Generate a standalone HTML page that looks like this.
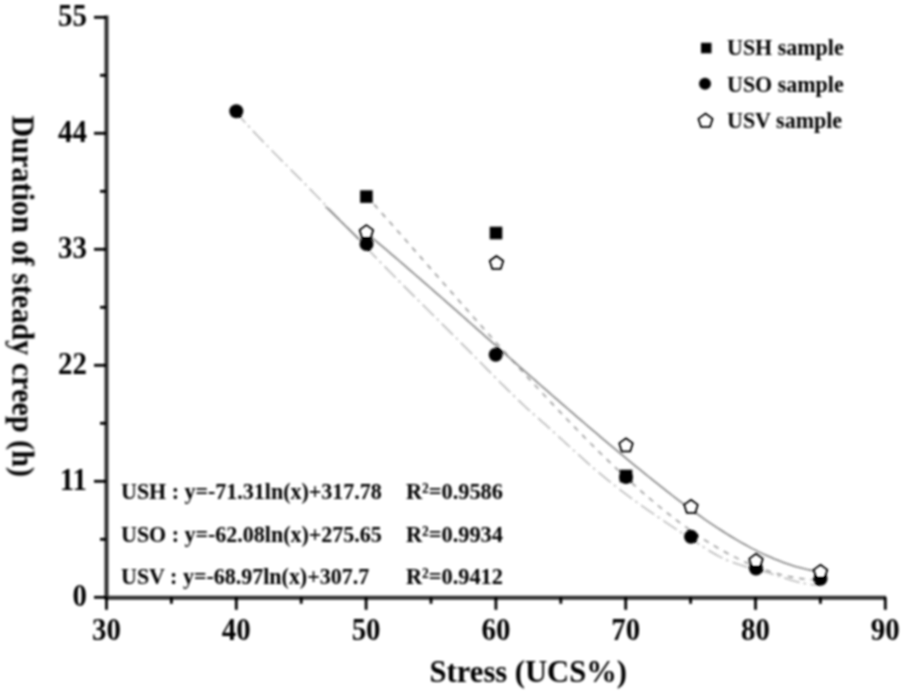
<!DOCTYPE html>
<html><head><meta charset="utf-8"><style>
html,body{margin:0;padding:0;background:#fff;}
body{width:905px;height:697px;overflow:hidden;font-family:"Liberation Serif",serif;}
svg{display:block;}
</style></head><body>
<svg width="905" height="697" viewBox="0 0 905 697">
<defs><filter id="bl" color-interpolation-filters="sRGB" filterUnits="userSpaceOnUse" x="0" y="0" width="905" height="697"><feGaussianBlur stdDeviation="0.8"/><feComponentTransfer><feFuncR type="linear" slope="1.25" intercept="-0.25"/><feFuncG type="linear" slope="1.25" intercept="-0.25"/><feFuncB type="linear" slope="1.25" intercept="-0.25"/></feComponentTransfer></filter></defs>
<rect width="100%" height="100%" fill="#fff"/>
<g filter="url(#bl)">
<path d="M236.5,112.7 L239.5,116.1 L242.5,119.5 L245.5,122.9 L248.5,126.1 L251.5,129.4 L254.5,132.6 L257.5,135.8 L260.5,138.9 L263.5,142.1 L266.5,145.1 L269.5,148.2 L272.5,151.3 L275.5,154.3 L278.5,157.3 L281.5,160.4 L284.5,163.4 L287.5,166.4 L290.5,169.4 L293.5,172.4 L296.5,175.4 L299.5,178.4 L302.5,181.4 L305.5,184.5 L308.5,187.5 L311.5,190.6 L314.5,193.7 L317.5,196.8 L320.5,199.9 L323.5,203.0 L326.5,206.1 L329.5,209.2 L332.5,212.3 L335.5,215.5 L338.5,218.6 L341.5,221.7 L344.5,224.9 L347.5,228.0 L350.5,231.1 L353.5,234.3 L356.5,237.4 L359.5,240.6 L362.5,243.7 L365.5,246.8 L368.5,249.9 L371.5,253.0 L374.5,256.1 L377.5,259.2 L380.5,262.3 L383.5,265.4 L386.5,268.4 L389.5,271.5 L392.5,274.5 L395.5,277.5 L398.5,280.6 L401.5,283.6 L404.5,286.6 L407.5,289.6 L410.5,292.6 L413.5,295.6 L416.5,298.6 L419.5,301.5 L422.5,304.5 L425.5,307.5 L428.5,310.5 L431.5,313.5 L434.5,316.4 L437.5,319.4 L440.5,322.4 L443.5,325.4 L446.5,328.4 L449.5,331.4 L452.5,334.3 L455.5,337.3 L458.5,340.3 L461.5,343.4 L464.5,346.4 L467.5,349.4 L470.5,352.4 L473.5,355.4 L476.5,358.5 L479.5,361.5 L482.5,364.5 L485.5,367.6 L488.5,370.6 L491.5,373.6 L494.5,376.6 L497.5,379.7 L500.5,382.7 L503.5,385.6 L506.5,388.6 L509.5,391.6 L512.5,394.5 L515.5,397.5 L518.5,400.3 L521.5,403.2 L524.5,406.0 L527.5,408.8 L530.5,411.5 L533.5,414.2 L536.5,416.8 L539.5,419.4 L542.5,422.1 L545.5,424.7 L548.5,427.4 L551.5,430.1 L554.5,432.8 L557.5,435.6 L560.5,438.3 L563.5,441.0 L566.5,443.8 L569.5,446.5 L572.5,449.3 L575.5,452.0 L578.5,454.7 L581.5,457.4 L584.5,460.1 L587.5,462.8 L590.5,465.4 L593.5,468.1 L596.5,470.7 L599.5,473.2 L602.5,475.7 L605.5,478.2 L608.5,480.6 L611.5,483.0 L614.5,485.4 L617.5,487.8 L620.5,490.1 L623.5,492.4 L626.5,494.6 L629.5,496.9 L632.5,499.1 L635.5,501.3 L638.5,503.4 L641.5,505.6 L644.5,507.7 L647.5,509.8 L650.5,511.9 L653.5,513.9 L656.5,516.0 L659.5,518.0 L662.5,520.1 L665.5,522.1 L668.5,524.1 L671.5,526.1 L674.5,528.1 L677.5,530.0 L680.5,532.0 L683.5,534.0 L686.5,535.9 L689.5,537.9 L692.5,539.9 L695.5,541.8 L698.5,543.8 L701.5,545.7 L704.5,547.7 L707.5,549.6 L710.5,551.5 L713.5,553.3 L716.5,555.0 L719.5,556.6 L722.5,558.1 L725.5,559.5 L728.5,560.7 L731.5,561.9 L734.5,563.0 L737.5,564.1 L740.5,565.1 L743.5,566.0 L746.5,566.9 L749.5,567.7 L752.5,568.5 L755.5,569.3 L758.5,570.2 L761.5,571.0 L764.5,571.8 L767.5,572.6 L770.5,573.5 L773.5,574.5 L776.5,575.4 L779.5,576.4 L782.5,577.4 L785.5,578.3 L788.5,579.3 L791.5,580.2 L794.5,581.1 L797.5,581.9 L800.5,582.7 L803.5,583.3 L806.5,583.9 L809.5,584.4 L812.5,584.7 L815.5,584.9 L818.5,585.0 L820.0,585.0" fill="none" stroke="#c8c8c8" stroke-width="1.6" stroke-dasharray="16 4 2.5 4.5" stroke-dashoffset="2.6"/>
<path d="M366.4,195.8 L369.4,199.2 L372.4,202.5 L375.4,205.9 L378.4,209.3 L381.4,212.7 L384.4,216.1 L387.4,219.4 L390.4,222.8 L393.4,226.2 L396.4,229.6 L399.4,233.0 L402.4,236.4 L405.4,239.8 L408.4,243.3 L411.4,246.7 L414.4,250.1 L417.4,253.5 L420.4,256.9 L423.4,260.3 L426.4,263.7 L429.4,267.1 L432.4,270.5 L435.4,274.0 L438.4,277.4 L441.4,280.8 L444.4,284.2 L447.4,287.6 L450.4,291.0 L453.4,294.4 L456.4,297.8 L459.4,301.2 L462.4,304.6 L465.4,308.0 L468.4,311.4 L471.4,314.8 L474.4,318.2 L477.4,321.5 L480.4,324.9 L483.4,328.3 L486.4,331.6 L489.4,335.0 L492.4,338.4 L495.4,341.7 L498.4,345.0 L501.4,348.4 L504.4,351.7 L507.4,355.0 L510.4,358.3 L513.4,361.7 L516.4,365.0 L519.4,368.3 L522.4,371.5 L525.4,374.8 L528.4,378.1 L531.4,381.3 L534.4,384.6 L537.4,387.8 L540.4,391.1 L543.4,394.3 L546.4,397.5 L549.4,400.7 L552.4,403.9 L555.4,407.1 L558.4,410.2 L561.4,413.4 L564.4,416.5 L567.4,419.7 L570.4,422.8 L573.4,425.9 L576.4,429.0 L579.4,432.1 L582.4,435.1 L585.4,438.2 L588.4,441.2 L591.4,444.2 L594.4,447.2 L597.4,450.2 L600.4,453.2 L603.4,456.1 L606.4,459.0 L609.4,461.9 L612.4,464.8 L615.4,467.6 L618.4,470.5 L621.4,473.3 L624.4,476.1 L627.4,478.8 L630.4,481.6 L633.4,484.3 L636.4,487.0 L639.4,489.6 L642.4,492.3 L645.4,494.9 L648.4,497.5 L651.4,500.0 L654.4,502.5 L657.4,505.0 L660.4,507.5 L663.4,509.9 L666.4,512.3 L669.4,514.7 L672.4,517.0 L675.4,519.3 L678.4,521.6 L681.4,523.8 L684.4,526.0 L687.4,528.2 L690.4,530.3 L693.4,532.4 L696.4,534.4 L699.4,536.5 L702.4,538.4 L705.4,540.4 L708.4,542.3 L711.4,544.1 L714.4,545.9 L717.4,547.7 L720.4,549.4 L723.4,551.1 L726.4,552.8 L729.4,554.4 L732.4,555.9 L735.4,557.4 L738.4,558.9 L741.4,560.3 L744.4,561.7 L747.4,563.0 L750.4,564.3 L753.4,565.6 L756.4,566.8 L759.4,567.9 L762.4,569.0 L765.4,570.0 L768.4,571.0 L771.4,572.0 L774.4,572.9 L777.4,573.7 L780.4,574.5 L783.4,575.2 L786.4,575.9 L789.4,576.6 L792.4,577.1 L795.4,577.7 L798.4,578.1 L801.4,578.6 L804.4,578.9 L807.4,579.2 L810.4,579.5 L813.4,579.7 L816.4,579.8 L819.4,579.9 L820.0,579.9" fill="none" stroke="#b0b0b0" stroke-width="1.6" stroke-dasharray="5.5 6"/>
<path d="M366.4,233.0 L369.4,235.5 L372.4,238.1 L375.4,240.6 L378.4,243.1 L381.4,245.6 L384.4,248.2 L387.4,250.7 L390.4,253.3 L393.4,255.9 L396.4,258.4 L399.4,261.0 L402.4,263.6 L405.4,266.2 L408.4,268.8 L411.4,271.4 L414.4,274.0 L417.4,276.6 L420.4,279.2 L423.4,281.8 L426.4,284.4 L429.4,287.0 L432.4,289.6 L435.4,292.3 L438.4,294.9 L441.4,297.5 L444.4,300.2 L447.4,302.8 L450.4,305.4 L453.4,308.1 L456.4,310.7 L459.4,313.4 L462.4,316.0 L465.4,318.7 L468.4,321.3 L471.4,324.0 L474.4,326.6 L477.4,329.3 L480.4,331.9 L483.4,334.6 L486.4,337.3 L489.4,339.9 L492.4,342.6 L495.4,345.2 L498.4,347.9 L501.4,350.5 L504.4,353.2 L507.4,355.9 L510.4,358.5 L513.4,361.2 L516.4,363.8 L519.4,366.5 L522.4,369.1 L525.4,371.8 L528.4,374.4 L531.4,377.0 L534.4,379.7 L537.4,382.3 L540.4,385.0 L543.4,387.6 L546.4,390.2 L549.4,392.8 L552.4,395.5 L555.4,398.1 L558.4,400.7 L561.4,403.3 L564.4,405.9 L567.4,408.5 L570.4,411.1 L573.4,413.7 L576.4,416.3 L579.4,418.9 L582.4,421.4 L585.4,424.0 L588.4,426.6 L591.4,429.1 L594.4,431.7 L597.4,434.2 L600.4,436.8 L603.4,439.3 L606.4,441.9 L609.4,444.4 L612.4,446.9 L615.4,449.4 L618.4,451.9 L621.4,454.4 L624.4,456.9 L627.4,459.4 L630.4,461.8 L633.4,464.3 L636.4,466.8 L639.4,469.2 L642.4,471.6 L645.4,474.1 L648.4,476.5 L651.4,478.9 L654.4,481.3 L657.4,483.7 L660.4,486.1 L663.4,488.4 L666.4,490.8 L669.4,493.1 L672.4,495.5 L675.4,497.8 L678.4,500.1 L681.4,502.3 L684.4,504.6 L687.4,506.8 L690.4,509.0 L693.4,511.2 L696.4,513.4 L699.4,515.5 L702.4,517.7 L705.4,519.8 L708.4,521.8 L711.4,523.9 L714.4,525.9 L717.4,527.9 L720.4,529.8 L723.4,531.7 L726.4,533.6 L729.4,535.5 L732.4,537.3 L735.4,539.1 L738.4,540.9 L741.4,542.6 L744.4,544.3 L747.4,545.9 L750.4,547.6 L753.4,549.1 L756.4,550.6 L759.4,552.1 L762.4,553.6 L765.4,555.0 L768.4,556.3 L771.4,557.6 L774.4,558.9 L777.4,560.1 L780.4,561.3 L783.4,562.4 L786.4,563.5 L789.4,564.5 L792.4,565.5 L795.4,566.4 L798.4,567.2 L801.4,568.0 L804.4,568.8 L807.4,569.5 L810.4,570.1 L813.4,570.7 L816.4,571.2 L819.4,571.7 L820.0,571.8" fill="none" stroke="#9a9a9a" stroke-width="1.6"/>
<path d="M325.5,206.5 L360,240" fill="none" stroke="#9a9a9a" stroke-width="1.6"/>
<path d="M106.5,15.5 V597.8 H886" stroke="#5a5a5a" stroke-width="4.0" fill="none"/>
<g stroke="#2a2a2a" stroke-width="2.8">
<line x1="94" y1="597.3" x2="106" y2="597.3"/>
<line x1="100" y1="539.3" x2="106" y2="539.3"/>
<line x1="94" y1="481.3" x2="106" y2="481.3"/>
<line x1="100" y1="423.3" x2="106" y2="423.3"/>
<line x1="94" y1="365.3" x2="106" y2="365.3"/>
<line x1="100" y1="307.3" x2="106" y2="307.3"/>
<line x1="94" y1="249.3" x2="106" y2="249.3"/>
<line x1="100" y1="191.3" x2="106" y2="191.3"/>
<line x1="94" y1="133.3" x2="106" y2="133.3"/>
<line x1="100" y1="75.3" x2="106" y2="75.3"/>
<line x1="94" y1="17.3" x2="106" y2="17.3"/>
<line x1="106.5" y1="597.3" x2="106.5" y2="609.8"/>
<line x1="171.4" y1="597.3" x2="171.4" y2="603.8"/>
<line x1="236.3" y1="597.3" x2="236.3" y2="609.8"/>
<line x1="301.2" y1="597.3" x2="301.2" y2="603.8"/>
<line x1="366.1" y1="597.3" x2="366.1" y2="609.8"/>
<line x1="431.0" y1="597.3" x2="431.0" y2="603.8"/>
<line x1="495.9" y1="597.3" x2="495.9" y2="609.8"/>
<line x1="560.8" y1="597.3" x2="560.8" y2="603.8"/>
<line x1="625.7" y1="597.3" x2="625.7" y2="609.8"/>
<line x1="690.6" y1="597.3" x2="690.6" y2="603.8"/>
<line x1="755.5" y1="597.3" x2="755.5" y2="609.8"/>
<line x1="820.4" y1="597.3" x2="820.4" y2="603.8"/>
<line x1="885.3" y1="597.3" x2="885.3" y2="609.8"/>
</g>
<g font-family="Liberation Serif" font-weight="bold" font-size="29.5" fill="#111">
<text transform="translate(87,605.9) scale(0.98,1.07)" text-anchor="end">0</text>
<text transform="translate(87,489.9) scale(0.98,1.07)" text-anchor="end">11</text>
<text transform="translate(87,373.9) scale(0.98,1.07)" text-anchor="end">22</text>
<text transform="translate(87,257.9) scale(0.98,1.07)" text-anchor="end">33</text>
<text transform="translate(87,141.9) scale(0.98,1.07)" text-anchor="end">44</text>
<text transform="translate(87,25.9) scale(0.98,1.07)" text-anchor="end">55</text>
<text transform="translate(106.5,639.5) scale(0.98,1.07)" text-anchor="middle">30</text>
<text transform="translate(236.3,639.5) scale(0.98,1.07)" text-anchor="middle">40</text>
<text transform="translate(366.1,639.5) scale(0.98,1.07)" text-anchor="middle">50</text>
<text transform="translate(495.9,639.5) scale(0.98,1.07)" text-anchor="middle">60</text>
<text transform="translate(625.7,639.5) scale(0.98,1.07)" text-anchor="middle">70</text>
<text transform="translate(755.5,639.5) scale(0.98,1.07)" text-anchor="middle">80</text>
<text transform="translate(885.3,639.5) scale(0.98,1.07)" text-anchor="middle">90</text>
</g>
<g font-family="Liberation Serif" font-weight="bold" font-size="30" fill="#111">
<text transform="translate(528.3,682) scale(1.02,1.06)" text-anchor="middle">Stress (UCS%)</text>
<text transform="translate(12.8,296.3) rotate(90) scale(1.006,1.06)" text-anchor="middle">Duration of steady creep (h)</text>
</g>
<g font-family="Liberation Serif" font-weight="bold" font-size="22" fill="#262626">
<text transform="translate(121,498.5) scale(1.0,1.06)">USH : y=-71.31ln(x)+317.78</text>
<text transform="translate(406,498.5) scale(1.015,1.06)">R²=0.9586</text>
<text transform="translate(121,541.5) scale(1.0,1.06)">USO : y=-62.08ln(x)+275.65</text>
<text transform="translate(406,541.5) scale(1.015,1.06)">R²=0.9934</text>
<text transform="translate(121,583.5) scale(1.0,1.06)">USV : y=-68.97ln(x)+307.7</text>
<text transform="translate(406,583.5) scale(1.015,1.06)">R²=0.9412</text>
</g>
<g font-family="Liberation Serif" font-weight="bold" font-size="22" fill="#111">
<text transform="translate(727,55) scale(1.0,1.06)">USH sample</text>
<text transform="translate(727,91.5) scale(1.0,1.06)">USO sample</text>
<text transform="translate(727,127.5) scale(1.0,1.06)">USV sample</text>
</g>
<rect x="360.1" y="190.3" width="12.6" height="12.6" fill="#000"/>
<rect x="489.7" y="226.7" width="12.6" height="12.6" fill="#000"/>
<rect x="619.7" y="469.7" width="12.6" height="12.6" fill="#000"/>
<circle cx="236.3" cy="111.3" r="7" fill="#000"/>
<circle cx="366.5" cy="244.0" r="7" fill="#000"/>
<circle cx="495.7" cy="354.7" r="7" fill="#000"/>
<circle cx="626.0" cy="477.0" r="7" fill="#000"/>
<circle cx="691.0" cy="536.7" r="7" fill="#000"/>
<circle cx="756.0" cy="568.5" r="7" fill="#000"/>
<circle cx="820.5" cy="578.8" r="7" fill="#000"/>
<polygon points="366.4,225.0 373.3,230.0 370.7,238.2 362.1,238.2 359.5,230.0" fill="#fff" stroke="#000" stroke-width="1.5"/>
<polygon points="496.5,255.8 503.4,260.8 500.8,269.0 492.2,269.0 489.6,260.8" fill="#fff" stroke="#000" stroke-width="1.5"/>
<polygon points="626.0,438.2 632.9,443.2 630.3,451.4 621.7,451.4 619.1,443.2" fill="#fff" stroke="#000" stroke-width="1.5"/>
<polygon points="691.0,499.7 697.9,504.7 695.3,512.9 686.7,512.9 684.1,504.7" fill="#fff" stroke="#000" stroke-width="1.5"/>
<polygon points="756.0,553.7 762.9,558.7 760.3,566.9 751.7,566.9 749.1,558.7" fill="#fff" stroke="#000" stroke-width="1.5"/>
<polygon points="820.5,564.7 827.4,569.7 824.8,577.9 816.2,577.9 813.6,569.7" fill="#fff" stroke="#000" stroke-width="1.5"/>
<rect x="701.0" y="42.8" width="10.5" height="10.5" fill="#000"/>
<circle cx="705.0" cy="83.8" r="6" fill="#000"/>
<polygon points="705.5,113.4 712.7,118.7 710.0,127.1 701.0,127.1 698.3,118.7" fill="#fff" stroke="#000" stroke-width="1.5"/>
</g>
</svg>
</body></html>
